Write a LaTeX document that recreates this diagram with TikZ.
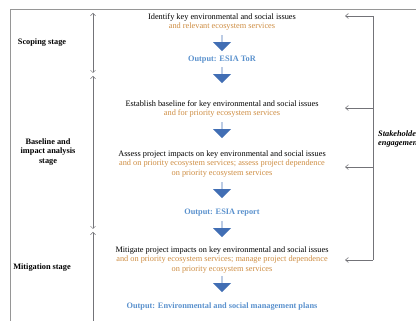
\documentclass[tikz,border=0pt]{standalone}
\usepackage{fontspec}
\setmainfont{Liberation Serif}
\usetikzlibrary{arrows.meta,shapes.arrows}
\definecolor{FrameGray}{RGB}{150,150,150}
\definecolor{LineGray}{RGB}{115,115,120}
\definecolor{StepOrange}{RGB}{205,140,65}
\definecolor{OutBlue}{RGB}{90,145,205}
\definecolor{ArrowBlue}{RGB}{65,110,180}

\begin{document}
\begin{tikzpicture}[x=1pt,y=-1pt,
    txt/.style={align=center,inner sep=0pt,font=\fontsize{8.3}{9.6}\selectfont},
    outbox/.style={txt,text=OutBlue,font=\fontsize{8.3}{9.6}\selectfont\bfseries},
    stage/.style={align=center,inner sep=0pt,font=\fontsize{8.3}{9.6}\selectfont\bfseries},
    down/.style={single arrow,draw=none,fill=ArrowBlue,inner sep=0pt,
      minimum width=18pt,single arrow head extend=4.5pt,minimum height=16pt,
      shape border rotate=270},
    spanline/.style={draw=LineGray,line width=0.5pt,
      {Straight Barb[length=2.5pt,width=5pt]}-{Straight Barb[length=2.5pt,width=5pt]}},
    stk/.style={draw=LineGray,line width=0.6pt,-{Straight Barb[length=3pt,width=5pt]}}]
  \useasboundingbox (0,0) rectangle (416,321);
  \clip (0,0) rectangle (416,321);
  \draw[FrameGray,line width=0.8pt] (10,9) rectangle (440,340);

  % centre column
  \node[txt] (ident) at (222,22) {Identify key environmental and social issues\\
    \textcolor{StepOrange}{and relevant ecosystem services}};
  \node[down] (a1) at (222,43) {};
  \node[outbox] (tor) at (222,60) {Output: ESIA ToR};
  \node[down] (a2) at (222,75) {};
  \node[txt] (base) at (222,109) {Establish baseline for key environmental and social issues\\
    \textcolor{StepOrange}{and for priority ecosystem services}};
  \node[down] (a3) at (222,130) {};
  \node[txt] (assess) at (222,164) {Assess project impacts on key environmental and social issues\\
    \textcolor{StepOrange}{and on priority ecosystem services; assess project dependence}\\
    \textcolor{StepOrange}{on priority ecosystem services}};
  \node[down] (a4) at (222,190) {};
  \node[outbox] (report) at (222,213) {Output: ESIA report};
  \node[down] (a5) at (222,229) {};
  \node[txt] (mitig) at (222,260) {Mitigate project impacts on key environmental and social issues\\
    \textcolor{StepOrange}{and on priority ecosystem services; manage project dependence}\\
    \textcolor{StepOrange}{on priority ecosystem services}};
  \node[down] (a6) at (222,284) {};
  \node[outbox] (plans) at (222,307) {Output: Environmental and social management plans};

  % stages
  \node[stage] (scoping) at (42,43) {Scoping stage};
  \node[stage] (baseline) at (48,152) {Baseline and\\impact analysis\\stage};
  \node[stage] (mitstage) at (42,268) {Mitigation stage};
  \coordinate (s0) at (93,13);
  \coordinate (s1) at (93,73);
  \coordinate (s2) at (93,76);
  \coordinate (s3) at (93,229);
  \coordinate (s4) at (93,232);
  \coordinate (s5) at (93,330);
  \draw[spanline] (s0) -- (s1);
  \draw[spanline] (s2) -- (s3);
  \draw[spanline] (s4) -- (s5);

  % stakeholder engagement
  \coordinate (ktop) at (373,16);
  \coordinate (kbot) at (373,260);
  \draw[LineGray,line width=0.6pt] (ktop) -- (kbot);
  \foreach \n/\y in {a/16,b/108,c/167,d/260}{
    \coordinate (k\n) at (373,\y);
    \coordinate (e\n) at (345,\y);
    \draw[stk] (k\n) -- (e\n);
  }
  \node[stage,anchor=west,align=left,font=\fontsize{8.3}{9.6}\selectfont\bfseries\itshape]
    (stake) at (378,139) {Stakeholder\\engagement};
\end{tikzpicture}
\end{document}
